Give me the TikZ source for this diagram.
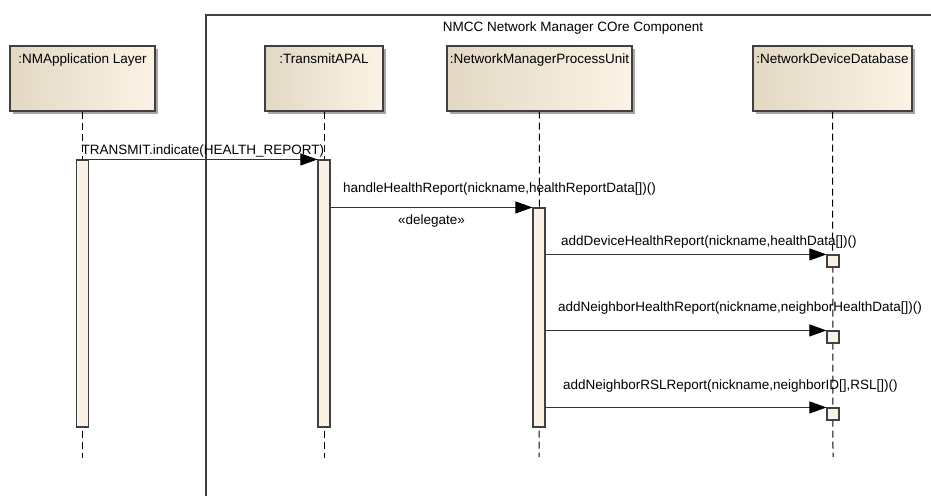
\documentclass[tikz,border=0pt]{standalone}
\usepackage{fontspec}
\setmainfont{Liberation Sans}
\usetikzlibrary{arrows.meta,shadows}
\definecolor{headl}{RGB}{226,216,196}
\definecolor{headr}{RGB}{252,243,230}
\definecolor{barfill}{RGB}{251,241,228}
\definecolor{edge}{RGB}{64,64,64}
\begin{document}
\begin{tikzpicture}[x=1pt,y=-1pt,
		font=\fontsize{13.5}{15}\selectfont,
		head/.style={draw=edge,line width=1.1pt,left color=headl,right color=headr,
			minimum height=65pt,inner xsep=1pt,inner ysep=4pt,text height=13pt,text depth=44pt,
			drop shadow={shadow xshift=3pt,shadow yshift=-3pt,fill=black!35,opacity=1}},
		life/.style={draw=black,line width=1pt,dash pattern=on 7pt off 4pt},
		bar/.style={draw=edge,line width=1.1pt,fill=barfill,minimum width=12pt,inner sep=0pt},
		msg/.style={draw=black!80,line width=1pt,-{Triangle[length=17pt,width=12pt,color=black]}},
		lbl/.style={inner sep=0pt,anchor=base west}]
		\useasboundingbox (0,0) rectangle (931,496);
		
		\draw[edge,line width=1.2pt] (206,496) -- (206,15) -- (931,15);
		\node (frametitle) at (573,28) {NMCC Network Manager COre Component};
		
		\node[head,minimum width=145pt] (nmapp) at (82.5,78.5) {:NMApplication Layer};
		\node[head,minimum width=118pt] (transmit) at (324,78.5) {:TransmitAPAL};
		\node[head,minimum width=185pt] (nmpu) at (539.5,78.5) {:NetworkManagerProcessUnit};
		\node[head,minimum width=159pt] (ndb) at (832.5,78.5) {:NetworkDeviceDatabase};
		
		\coordinate (nmappend) at (82.5,458);
		\coordinate (transmitend) at (324,458);
		\coordinate (nmpuend) at (539,457);
		\coordinate (ndbend) at (833,457);
		\draw[life] (nmapp) -- (nmappend);
		\draw[life] (transmit) -- (transmitend);
		\draw[life] (nmpu) -- (nmpuend);
		\draw[life] (ndb) -- (ndbend);
		
		\node[bar,minimum height=267pt] (barA) at (82.5,293.5) {};
		\node[bar,minimum height=267pt] (barB) at (324,293.5) {};
		\node[bar,minimum height=219pt] (barC) at (539,317.5) {};
		\node[bar,minimum height=12pt] (dbA) at (833,261) {};
		\node[bar,minimum height=12pt] (dbB) at (833,337) {};
		\node[bar,minimum height=12pt] (dbC) at (833,414) {};
		
		\draw[msg] (barA.north east) -- 
		node[lbl,pos=0,xshift=-8pt,yshift=5pt] {TRANSMIT.indicate(HEALTH\_REPORT)} (barB.north west);
		
		\draw[msg] (barB.east |- barC.north west) -- 
		node[lbl,pos=0,xshift=12pt,yshift=15pt] {handleHealthReport(nickname,healthReportData[])()}
		node[midway,inner sep=0pt,anchor=base,yshift=-17pt] {«delegate»} (barC.north west);
		
		\draw[msg] (barC.east |- dbA.north west) -- 
		node[lbl,pos=0,xshift=15pt,yshift=9pt] {addDeviceHealthReport(nickname,healthData[])()} (dbA.north west);
		
		\draw[msg] (barC.east |- dbB.north west) -- 
		node[lbl,pos=0,xshift=12pt,yshift=19pt] {addNeighborHealthReport(nickname,neighborHealthData[])()} (dbB.north west);
		
		\draw[msg] (barC.east |- dbC.north west) -- 
		node[lbl,pos=0,xshift=17pt,yshift=18pt] {addNeighborRSLReport(nickname,neighborID[],RSL[])()} (dbC.north west);
	\end{tikzpicture}
\end{document}
